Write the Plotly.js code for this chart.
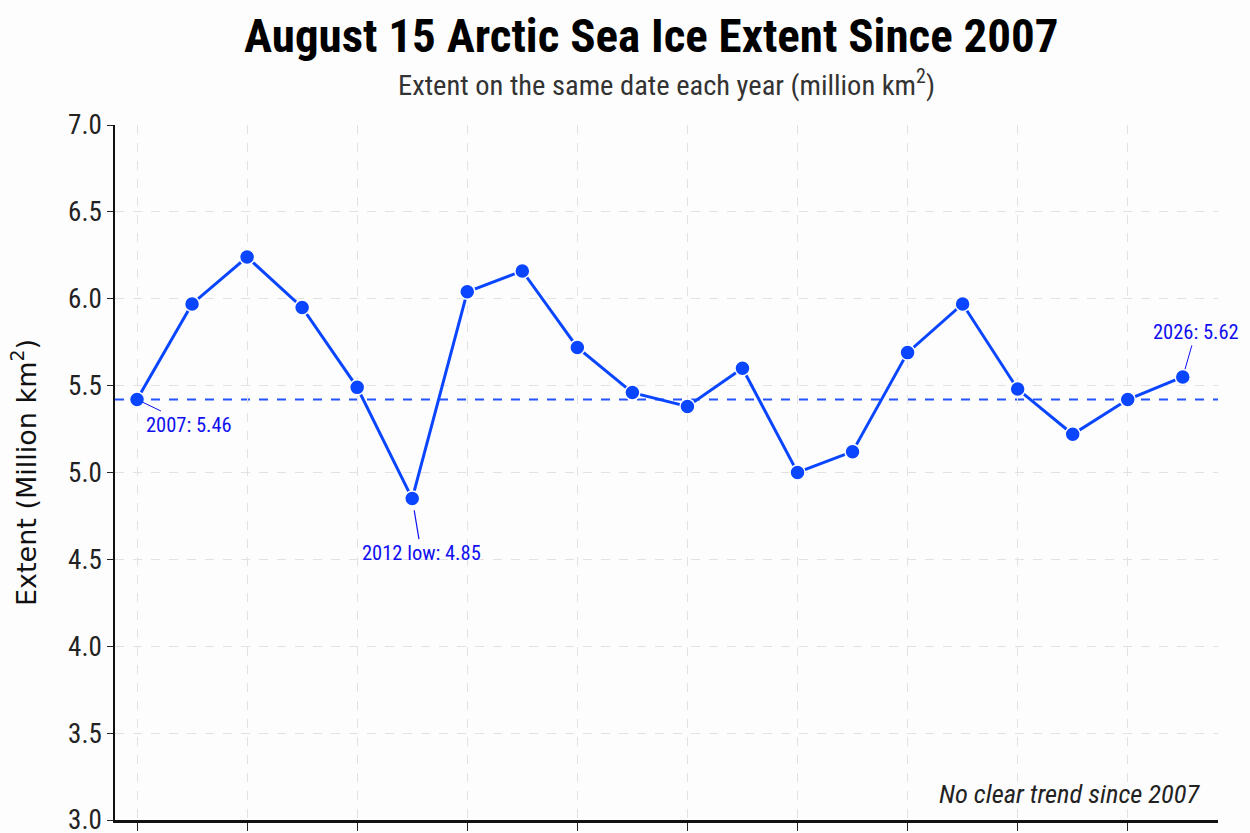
<!DOCTYPE html>
<html>
<head>
<meta charset="utf-8">
<script src="https://cdn.plot.ly/plotly-3.0.1.min.js"></script>
<style>
  html, body { margin: 0; padding: 0; background: #fdfdfd; }
  #myDiv { width: 1250px; height: 833px; }
</style>
</head>
<body>
<div id="myDiv"></div>
<script>
const graphDiv = document.getElementById('myDiv')

// August 15 extent, million km2
const years = [2007, 2008, 2009, 2010, 2011, 2012, 2013, 2014, 2015, 2016,
               2017, 2018, 2019, 2020, 2021, 2022, 2023, 2024, 2025, 2026]
const extent = [5.42, 5.97, 6.24, 5.95, 5.49, 4.85, 6.04, 6.16, 5.72, 5.46,
                5.38, 5.60, 5.00, 5.12, 5.69, 5.97, 5.48, 5.22, 5.42, 5.55]
const baseline = 5.42
const yTicks = [3.0, 3.5, 4.0, 4.5, 5.0, 5.5, 6.0, 6.5, 7.0]

const narrow = '"Roboto Condensed", "Liberation Sans Narrow", "Arial Narrow", Roboto, sans-serif'
const blue = '#0a46ff'
const noteBlue = '#1010f0'

const series = {
    x: years,
    y: extent,
    type: 'scatter',
    mode: 'lines+markers',
    line: {color: blue, width: 3},
    marker: {color: blue, size: 15, line: {color: 'white', width: 1.5}},
    hoverinfo: 'x+y',
    showlegend: false,
}

const n = years.length
const layout = {
    width: 1250,
    height: 833,
    paper_bgcolor: '#fdfdfd',
    plot_bgcolor: '#fdfdfd',
    margin: {l: 115, r: 32, t: 125, b: 13, pad: 0},
    showlegend: false,
    title: {
        text: '<b>August 15 Arctic Sea Ice Extent Since 2007</b>',
        font: {family: narrow, size: 47, color: '#000'},
        xref: 'container', x: 0.521, xanchor: 'center',
        yref: 'container', y: 0.957, yanchor: 'middle',
    },
    xaxis: {
        range: [2006.6, 2026.64],
        tick0: 2007,
        dtick: 2,
        showticklabels: false,
        ticks: 'outside',
        ticklen: 8,
        tickwidth: 1,
        tickcolor: '#222',
        showline: true,
        linecolor: '#111',
        linewidth: 3,
        showgrid: true,
        gridcolor: '#e2e2e2',
        griddash: 'dash',
        gridwidth: 1,
        zeroline: false,
        fixedrange: true,
    },
    yaxis: {
        range: [3.0, 7.0],
        tickvals: yTicks,
        ticktext: yTicks.map(v => v.toFixed(1)),
        ticks: 'outside',
        ticklen: 6,
        tickwidth: 1,
        tickcolor: '#222',
        tickfont: {family: narrow, size: 27, color: '#222'},
        ticklabeloverflow: 'allow',
        showline: true,
        linecolor: '#111',
        linewidth: 1.5,
        showgrid: true,
        gridcolor: '#e2e2e2',
        griddash: 'dash',
        gridwidth: 1,
        zeroline: false,
        title: {
            text: 'Extent (Million km<sup>2</sup>)',
            font: {family: '"DejaVu Sans", Arial, sans-serif', size: 27, color: '#111'},
            standoff: 24,
        },
        fixedrange: true,
    },
    shapes: [{
        type: 'line',
        xref: 'paper', x0: 0, x1: 1,
        yref: 'y', y0: baseline, y1: baseline,
        line: {color: '#2255ff', width: 1.8, dash: 'dash'},
        layer: 'below',
    }],
    annotations: [
        {
            text: 'Extent on the same date each year (million km<sup>2</sup>)',
            xref: 'paper', x: 0.5, xanchor: 'center',
            yref: 'paper', y: 1.0604, yanchor: 'middle',
            showarrow: false,
            font: {family: narrow, size: 28.5, color: '#333'},
        },
        {
            text: `${years[0]}: 5.46`,
            x: years[0], y: extent[0],
            ax: 52, ay: 25,
            showarrow: true, arrowhead: 0, arrowwidth: 1, arrowcolor: noteBlue,
            standoff: 6,
            font: {family: narrow, size: 20.5, color: noteBlue},
        },
        {
            text: `${years[5]} low: ${extent[5].toFixed(2)}`,
            x: years[5], y: extent[5],
            ax: 9, ay: 54,
            showarrow: true, arrowhead: 0, arrowwidth: 1.2, arrowcolor: noteBlue,
            standoff: 12,
            font: {family: narrow, size: 20.5, color: noteBlue},
        },
        {
            text: `${years[n - 1]}: 5.62`,
            x: years[n - 1], y: extent[n - 1],
            ax: 13, ay: -45,
            showarrow: true, arrowhead: 0, arrowwidth: 1, arrowcolor: noteBlue,
            standoff: 8,
            font: {family: narrow, size: 20.5, color: noteBlue},
        },
        {
            text: '<i>No clear trend since 2007</i>',
            xref: 'paper', x: 0.9855, xanchor: 'right',
            yref: 'paper', y: 0.0388, yanchor: 'middle',
            showarrow: false,
            font: {family: narrow, size: 26.5, color: '#222'},
        },
    ],
}

const config = {displayModeBar: false, displaylogo: false}
Plotly.newPlot(graphDiv, [series], layout, config)
</script>
</body>
</html>
